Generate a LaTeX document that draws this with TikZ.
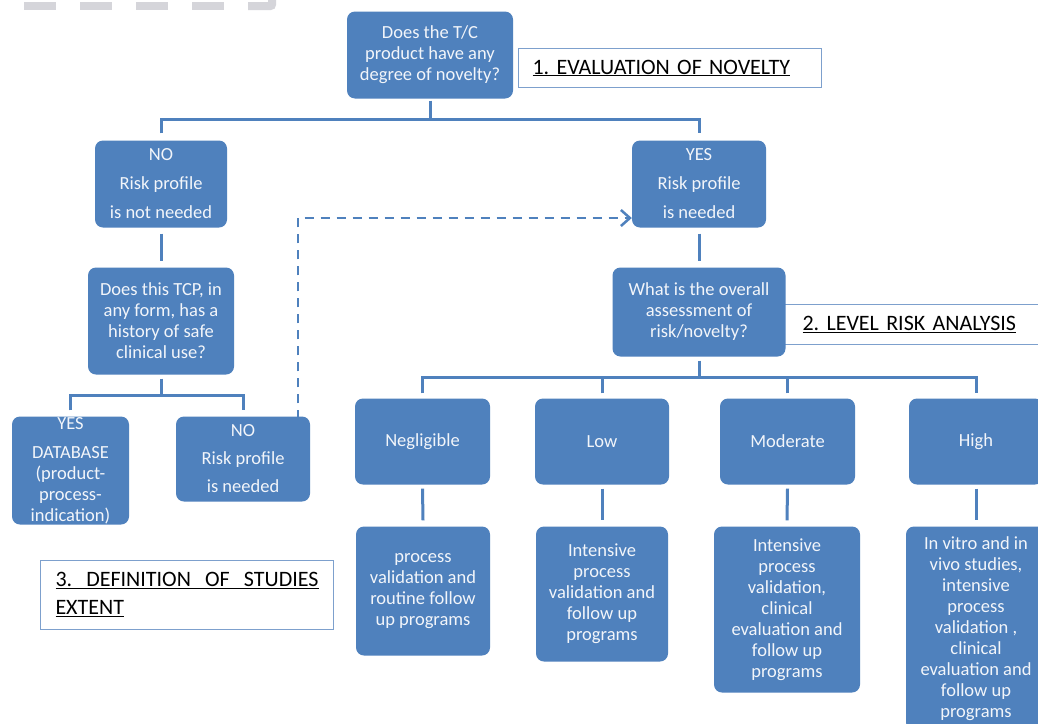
\documentclass[tikz,border=0pt]{standalone}
\usepackage{fontspec}
\setmainfont{Carlito}
\usetikzlibrary{calc,arrows.meta}
\definecolor{boxblue}{HTML}{4F81BD}
\definecolor{labblue}{RGB}{125,160,205}
\definecolor{greydash}{RGB}{213,213,218}
\definecolor{boxtext}{RGB}{242,245,250}
\frenchspacing
\begin{document}
\begin{tikzpicture}[x=1pt,y=-1pt,
  box/.style={fill=boxblue, rounded corners=8pt, text=boxtext, align=center,
    font=\fontsize{18.5}{21}\selectfont, inner sep=0pt},
  lab/.style={draw=labblue, line width=1pt, fill=white, anchor=west, align=left,
    font=\fontsize{22}{28}\selectfont, inner ysep=0pt},
  conn/.style={draw=boxblue, line width=3pt},
  dashconn/.style={draw=boxblue, line width=2.5pt, dash pattern=on 9pt off 7pt},
  grey/.style={fill=greydash, draw=none}
]
\useasboundingbox (0,0) rectangle (1038,723);
\clip (0,0) rectangle (1038,723);
\fill[white] (0,0) rectangle (1038,723);

% grey dashed edge at top
\path[grey] (24,2) rectangle (56,10);
\path[grey] (80,2) rectangle (112,10);
\path[grey] (136,2) rectangle (168,10);
\path[grey] (192,2) rectangle (224,10);
\path[grey] (248,2) -- (268,2) -- (268,0) -- (276,0) -- (276,5)
  .. controls (276,8) and (274,10) .. (271,10) -- (248,10) -- cycle;

% top question and label
\node[box, minimum width=166pt, minimum height=87pt] (q1) at (430,55)
  {Does the T/C\\product have any\\degree of novelty?};
\node[lab, text width=275pt, inner xsep=14pt, minimum height=39pt] (lab1) at (518,68)
  {\underline{1. EVALUATION OF NOVELTY}};

% NO / YES
\node[box, minimum width=132pt, minimum height=87pt] (no1) at (161,184)
  {NO\\[8pt]Risk profile\\[8pt]is not needed};
\node[box, minimum width=134pt, minimum height=87pt] (yes1) at (699,184)
  {YES\\[8pt]Risk profile\\[8pt]is needed};

% left branch
\node[box, minimum width=146pt, minimum height=107pt] (q2) at (161,321)
  {Does this TCP, in\\any form, has a\\history of safe\\clinical use?};
\node[box, minimum width=117pt, minimum height=108pt] (yes2) at (70.5,470.5)
  {YES\\[8pt]DATABASE\\(product-\\process-\\indication)};
\node[box, minimum width=134pt, minimum height=85pt] (no2) at (243,459)
  {NO\\[7pt]Risk profile\\[7pt]is needed};
\node[lab, text width=263pt, inner xsep=15pt, minimum height=69pt] (lab3) at (40,594.5)
  {\underline{\makebox[263pt][l]{3.\hfill DEFINITION\hfill OF\hfill STUDIES}}\\\underline{EXTENT}};

% right branch
\node[lab, text width=221pt, inner xsep=22pt, minimum height=40pt] (lab2) at (780,324.5)
  {\underline{2. LEVEL RISK ANALYSIS}};
\node[box, minimum width=173pt, minimum height=89pt] (q3) at (699,312)
  {What is the overall\\assessment of\\risk/novelty?};

\node[box, minimum width=135pt, minimum height=86pt] (neg) at (422.5,441.5) {Negligible};
\node[box, minimum width=134pt, minimum height=86pt] (low) at (602,441.5) {Low};
\node[box, minimum width=135pt, minimum height=86pt] (mod) at (787.5,441.5) {Moderate};
\node[box, minimum width=134pt, minimum height=86pt] (high) at (976,441.5) {High};

\node[box, minimum width=134pt, minimum height=129pt] (r1) at (423,591)
  {process\\validation and\\routine follow\\up programs};
\node[box, minimum width=132pt, minimum height=135pt] (r2) at (602,594)
  {Intensive\\process\\validation and\\follow up\\programs};
\node[box, minimum width=146pt, minimum height=166pt] (r3) at (787,609.5)
  {Intensive\\process\\validation,\\clinical\\evaluation and\\follow up\\programs};
\node[box, minimum width=140pt, minimum height=204pt] (r4) at (976,628.5)
  {In vitro and in\\vivo studies,\\intensive\\process\\validation ,\\clinical\\evaluation and\\follow up\\programs};

% connectors
\coordinate (b1) at (430,119);
\draw[conn] ($(q1.south)+(0,2)$) -- (b1);
\draw[conn] ($(no1.north)+(0,-7)$) |- (b1) -| ($(yes1.north)+(0,-7)$);

\draw[conn] ($(no1.south)+(0,6)$) -- ($(q2.north)+(0,-6)$);
\draw[conn] ($(yes1.south)+(0,6)$) -- ($(q3.north)+(0,-6)$);

\coordinate (b2) at (161,395);
\draw[conn] ($(q2.south)+(0,4)$) -- (b2);
\draw[conn] ($(yes2.north)+(0,-6)$) |- (b2) -| ($(no2.north)+(0,-6)$);

\coordinate (b3) at (699,377);
\draw[conn] ($(q3.south)+(0,4)$) -- (b3);
\draw[conn] ($(neg.north)+(0,-5)$) |- (b3) -| ($(high.north)+(0,-5)$);
\draw[conn] ($(low.north)+(0,-5)$) -- (low.north |- b3);
\draw[conn] ($(mod.north)+(0,-5)$) -- (mod.north |- b3);

\draw[conn] ($(neg.south)+(0,4)$) -- ($(r1.north)+(0,-6)$);
\draw[conn] ($(low.south)+(0,4)$) -- ($(r2.north)+(0,-6)$);
\draw[conn] ($(mod.south)+(0,4)$) -- ($(r3.north)+(0,-6)$);
\draw[conn] ($(high.south)+(0,4)$) -- ($(r4.north)+(0,-6)$);

% dashed feedback arrow
\coordinate (dk) at (298,218);
\draw[dashconn, -{Straight Barb[length=9pt,width=16pt,line width=2.5pt]}]
  ($(no2.north -| dk)+(0,3)$) -- (dk) -- (dk -| yes1.west);
\end{tikzpicture}
\end{document}
